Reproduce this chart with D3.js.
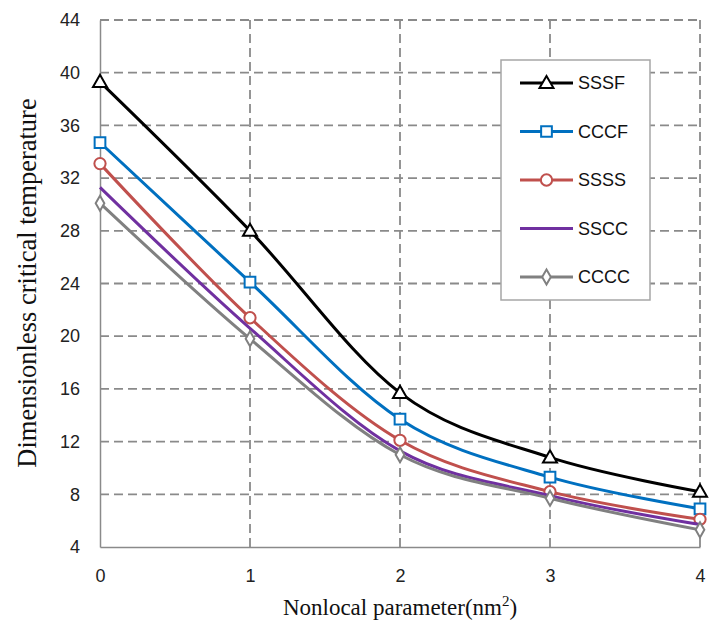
<!DOCTYPE html>
<html><head><meta charset="utf-8">
<script src="https://cdn.jsdelivr.net/npm/d3@7"></script>
<style>body{margin:0;background:#fff}svg{display:block}</style>
</head><body><svg id="c" width="709" height="626"></svg>
<script>
const xValues = [0, 1, 2, 3, 4];
const seriesNames = ["SSSF", "CCCF", "SSSS", "SSCC", "CCCC"];
const sssf = [39.3, 28.0, 15.7, 10.8, 8.2];
const cccf = [34.7, 24.1, 13.7, 9.3, 6.9];
const ssss = [33.1, 21.4, 12.1, 8.2, 6.1];
const sscc = [31.3, 20.6, 11.3, 7.9, 5.7];
const cccc = [30.1, 19.8, 11.0, 7.7, 5.3];
const yTicks = [4, 8, 12, 16, 20, 24, 28, 32, 36, 40, 44];
const xTicks = [0, 1, 2, 3, 4];
const colors = ["#000000", "#0070C0", "#C0504D", "#7030A0", "#808080"];
const markers = ["triangle", "square", "circle", null, "diamond"];
const allSeries = [sssf, cccf, ssss, sscc, cccc];

const svg = d3.select("#c");
const x = d3.scaleLinear().domain([0, 4]).range([100, 700]);
const y = d3.scaleLinear().domain([4, 44]).range([547, 20]);

// gridlines
const grid = svg.append("g");
grid.selectAll(".hy").data(yTicks.slice(1)).enter().append("line")
  .attr("x1", x(0)).attr("x2", x(4)).attr("y1", d => y(d)).attr("y2", d => y(d))
  .attr("stroke", "#8a8a8a").attr("stroke-width", 1.8).attr("stroke-dasharray", "9,5");
grid.selectAll(".vx").data(xTicks.slice(1)).enter().append("line")
  .attr("y1", y(4)).attr("y2", y(44)).attr("x1", d => x(d)).attr("x2", d => x(d))
  .attr("stroke", "#8a8a8a").attr("stroke-width", 1.8).attr("stroke-dasharray", "9,5");

// axes
const yAxis = d3.axisLeft(y).tickValues(yTicks).tickSize(0).tickPadding(20);
const gy = svg.append("g").attr("transform", `translate(${x(0)},0)`).call(yAxis);
gy.select(".domain").attr("stroke", "#8a8a8a").attr("stroke-width", 1.5);
gy.selectAll("text").attr("font-family", "Liberation Sans, Arial, sans-serif").attr("font-size", 18).attr("fill", "#222");
const xAxis = d3.axisBottom(x).tickValues(xTicks).tickSize(0).tickPadding(22).tickFormat(d3.format("d"));
const gx = svg.append("g").attr("transform", `translate(0,${y(4)})`).call(xAxis);
gx.select(".domain").attr("stroke", "#8a8a8a").attr("stroke-width", 1.5);
gx.selectAll("text").attr("font-family", "Liberation Sans, Arial, sans-serif").attr("font-size", 18).attr("fill", "#222");

// titles
svg.append("text").attr("x", 400).attr("y", 615).attr("text-anchor", "middle")
  .attr("font-family", "Liberation Serif, Times New Roman, serif").attr("font-size", 23).attr("fill", "#111")
  .html('Nonlocal parameter(nm<tspan dy="-9" font-size="15">2</tspan><tspan dy="9">)</tspan>');
svg.append("text").attr("transform", "translate(36,283) rotate(-90)").attr("text-anchor", "middle")
  .attr("font-family", "Liberation Serif, Times New Roman, serif").attr("font-size", 26.5).attr("fill", "#111")
  .text("Dimensionless critical temperature");

// lines
const line = d3.line().x((d, i) => x(xValues[i])).y(d => y(d)).curve(d3.curveCardinal.tension(0));
const symType = { triangle: d3.symbolTriangle, square: d3.symbolSquare, circle: d3.symbolCircle, diamond: d3.symbolDiamond };
const symSize = { triangle: 85, square: 115, circle: 100, diamond: 65 };
function marker(g, type, color, cx, cy) {
  g.append("path").attr("d", d3.symbol().type(symType[type]).size(symSize[type])())
    .attr("transform", `translate(${cx},${cy + (type === "triangle" ? 1 : 0)})`)
    .attr("fill", "#fff").attr("stroke", color).attr("stroke-width", 2);
}
allSeries.forEach((s, k) => {
  const g = svg.append("g");
  g.append("path").datum(s).attr("d", line).attr("fill", "none")
    .attr("stroke", colors[k]).attr("stroke-width", 3);
  if (markers[k]) s.forEach((v, i) => marker(g, markers[k], colors[k], x(xValues[i]), y(v)));
});

// legend
const lg = svg.append("g");
lg.append("rect").attr("x", 501).attr("y", 60).attr("width", 149).attr("height", 240)
  .attr("fill", "#fff").attr("stroke", "#a6a6a6").attr("stroke-width", 1.5);
seriesNames.forEach((n, k) => {
  const ly = 83 + k * 48.5;
  lg.append("line").attr("x1", 520).attr("x2", 573).attr("y1", ly).attr("y2", ly)
    .attr("stroke", colors[k]).attr("stroke-width", 3);
  if (markers[k]) marker(lg, markers[k], colors[k], 546.5, ly);
  lg.append("text").attr("x", 578).attr("y", ly).attr("dy", "0.35em")
    .attr("font-family", "Liberation Sans, Arial, sans-serif").attr("font-size", 18).attr("fill", "#111").text(n);
});
</script></body></html>
